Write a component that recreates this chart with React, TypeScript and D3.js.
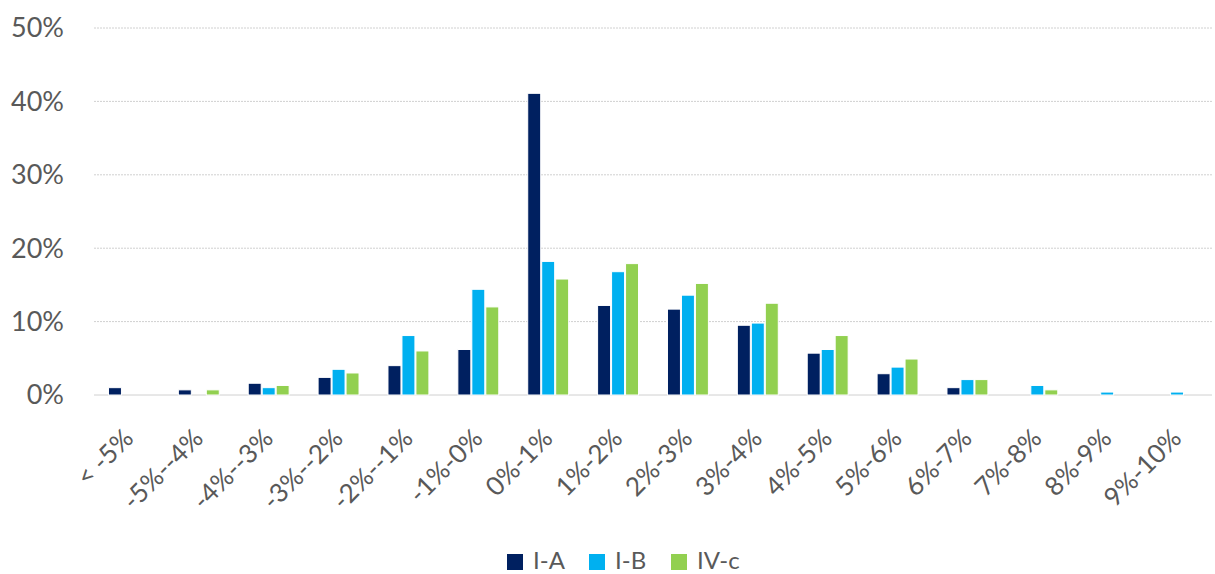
import React from "react";
import * as d3 from "d3";

// Distribution buckets and the share of each series that falls in them
const categories = [
  "< -5%", "-5%--4%", "-4%--3%", "-3%--2%", "-2%--1%", "-1%-0%", "0%-1%", "1%-2%",
  "2%-3%", "3%-4%", "4%-5%", "5%-6%", "6%-7%", "7%-8%", "8%-9%", "9%-10%",
];
const seriesNames = ["I-A", "I-B", "IV-c"];
const seriesIA = [1.0, 0.7, 1.6, 2.4, 4.0, 6.2, 41.1, 12.2, 11.7, 9.5, 5.7, 2.9, 1.0, 0, 0, 0];
const seriesIB = [0, 0, 1.0, 3.5, 8.1, 14.4, 18.2, 16.8, 13.6, 9.8, 6.2, 3.8, 2.1, 1.3, 0.4, 0.4];
const seriesIVc = [0, 0.7, 1.3, 3.0, 6.0, 12.0, 15.8, 17.9, 15.2, 12.5, 8.1, 4.9, 2.1, 0.7, 0, 0];
const yTicks = [0, 10, 20, 30, 40, 50];
const colors = ["#002060", "#00B0F0", "#92D050"];

const W = 1215;
const H = 574;
const FONT = "Lato, 'Open Sans', sans-serif";
const TEXT = "#595959";

export default function App() {
  const values = [seriesIA, seriesIB, seriesIVc];
  const x = d3.scaleBand<string>().domain(categories).range([94, 1212]).paddingInner(0.4).paddingOuter(0.2);
  const xs = d3.scaleBand<string>().domain(seriesNames).range([0, x.bandwidth()]).padding(0);
  const y = d3.scaleLinear().domain([0, 50]).range([395, 28]);

  const legendX = [507, 589, 671];

  return (
    <div style={{ position: "absolute", left: 0, top: 0 }}>
      <svg width={W} height={H} style={{ display: "block", background: "#fff" }}>
        {/* gridlines */}
        {yTicks.map((t) => (
          <line
            key={"g" + t}
            x1={94}
            x2={1212}
            y1={y(t)}
            y2={y(t)}
            stroke="#d0d0d0"
            strokeWidth={1}
            strokeDasharray={t === 0 ? undefined : "2,1"}
          />
        ))}
        {/* y labels */}
        {yTicks.map((t) => (
          <text
            key={"yl" + t}
            x={64}
            y={y(t)}
            dy="0.35em"
            textAnchor="end"
            fontFamily={FONT}
            fontSize={27}
            fill={TEXT}
          >
            {t + "%"}
          </text>
        ))}
        {/* bars */}
        {categories.map((c, i) => (
          <g key={c} transform={`translate(${x(c)},0)`}>
            {seriesNames.map((s, j) => {
              const v = values[j][i];
              if (v <= 0) return null;
              return (
                <rect
                  key={s}
                  x={xs(s)! + 0.5}
                  y={y(v)}
                  width={xs.bandwidth() - 1}
                  height={y(0) - y(v)}
                  fill={colors[j]}
                  stroke="#fff"
                  strokeWidth={1}
                />
              );
            })}
          </g>
        ))}
        {/* x labels */}
        {categories.map((c) => {
          const cx = x(c)! + x.bandwidth() / 2;
          return (
            <text
              key={"xl" + c}
              transform={`translate(${cx + 6},440) rotate(-45)`}
              textAnchor="end"
              fontFamily={FONT}
              fontSize={26}
              fill={TEXT}
            >
              {c}
            </text>
          );
        })}
        {/* legend */}
        {seriesNames.map((s, j) => (
          <g key={"lg" + s}>
            <rect x={legendX[j]} y={554} width={16} height={16} fill={colors[j]} />
            <text x={legendX[j] + 26} y={569} fontFamily={FONT} fontSize={24} fill={TEXT}>
              {s}
            </text>
          </g>
        ))}
      </svg>
    </div>
  );
}
